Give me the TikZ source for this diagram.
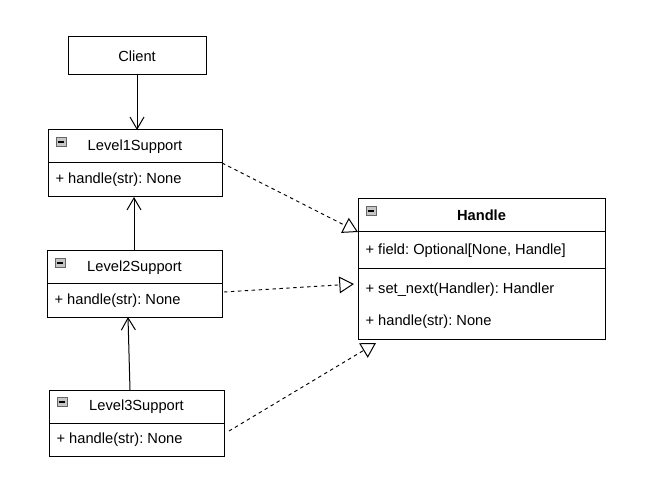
\documentclass[tikz,border=0pt]{standalone}
\usepackage{fontspec}
\setmainfont{Liberation Sans}
\usetikzlibrary{positioning,arrows.meta,calc}
\frenchspacing

\tikzset{
  classbox/.style={draw, line width=0.75pt, minimum height=24.75pt, inner sep=0pt, outer sep=0pt},
  compbox/.style={draw, line width=0.75pt, inner sep=0pt, outer sep=0pt},
  member/.style={anchor=west, inner sep=0pt, font=\fontsize{11}{13}\selectfont},
  assoc/.style={line width=0.75pt, -{Straight Barb[length=9pt,width=10.5pt,line width=0.75pt]}},
  realize/.style={line width=0.7pt, dash pattern=on 2.6pt off 2.6pt,
    -{Triangle[open,length=11pt,width=12.5pt,line width=0.75pt]}},
}
\newcommand{\collapseicon}[1]{%
  \fill[gray!45] ($(#1.north west)+(6pt,-5.5pt)$) rectangle ++(7.5pt,-7pt);
  \draw[gray!80!black, line width=0.4pt] ($(#1.north west)+(6pt,-5.5pt)$) rectangle ++(7.5pt,-7pt);
  \draw[black, line width=1pt] ($(#1.north west)+(7.3pt,-9pt)$) -- ++(4.9pt,0);
}

\begin{document}
\begin{tikzpicture}[x=0.75pt, y=-0.75pt, font=\fontsize{11}{13}\selectfont]
    \useasboundingbox (0,0) rectangle (661,499);

    % client
    \node[classbox, minimum width=103.5pt, minimum height=28.5pt] at (137,56) (client) {Client};

    % support chain
    \node[classbox, minimum width=130.5pt, anchor=north west] at (48,130) (l1head) {Level1Support};
    \node[compbox, minimum width=130.5pt, minimum height=25.5pt, below=0pt of l1head] (l1ops) {};
    \node[member] at ($(l1ops.west)+(5.5pt,0)$) (l1m) {+ handle(str): None};

    \node[classbox, minimum width=131.25pt, anchor=north west] at (47,251) (l2head) {Level2Support};
    \node[compbox, minimum width=131.25pt, minimum height=24.75pt, below=0pt of l2head] (l2ops) {};
    \node[member] at ($(l2ops.west)+(5.5pt,0)$) (l2m) {+ handle(str): None};

    \node[classbox, minimum width=131.25pt, anchor=north west] at (49,390) (l3head) {Level3Support};
    \node[compbox, minimum width=131.25pt, minimum height=24.75pt, below=0pt of l3head] (l3ops) {};
    \node[member] at ($(l3ops.west)+(5.5pt,0)$) (l3m) {+ handle(str): None};

    % handler interface
    \node[classbox, minimum width=185.25pt, anchor=north west, font=\fontsize{11}{13}\selectfont\bfseries] at (358,199) (hhead) {Handle};
    \node[compbox, minimum width=185.25pt, minimum height=27.75pt, below=0pt of hhead] (hattr) {};
    \node[member] at ($(hattr.west)+(5.5pt,0)$) (hfield) {+ field: Optional[None, Handle]};
    \node[compbox, minimum width=185.25pt, minimum height=52.5pt, below=0pt of hattr] (hops) {};
    \node[member] at ($(hops.north west)+(5.5pt,-15.75pt)$) (hnext) {+ set\_next(Handler): Handler};
    \node[member] at ($(hops.north west)+(5.5pt,-39.75pt)$) (hhandle) {+ handle(str): None};

    \collapseicon{l1head}
    \collapseicon{l2head}
    \collapseicon{l3head}
    \collapseicon{hhead}

    % associations
    \draw[assoc] (client.south) -- (l1head.north -| client.south);
    \draw[assoc] (l2head.north -| 134,0) -- (l1ops.south -| 134,0);
    \draw[assoc] (l3head.north -| 130,0) -- (l2ops.south -| 128,0);

    % realizations
    \coordinate (r1) at (222,163);
    \coordinate (r2) at (224,292);
    \coordinate (r3) at (229,431);
    \coordinate (t2) at (354,284);
    \coordinate (t3) at (376,343);
    \draw[realize] (r1) -- (hattr.north west);
    \draw[realize] (r2) -- (t2);
    \draw[realize] (r3) -- (t3);
\end{tikzpicture}
\end{document}
